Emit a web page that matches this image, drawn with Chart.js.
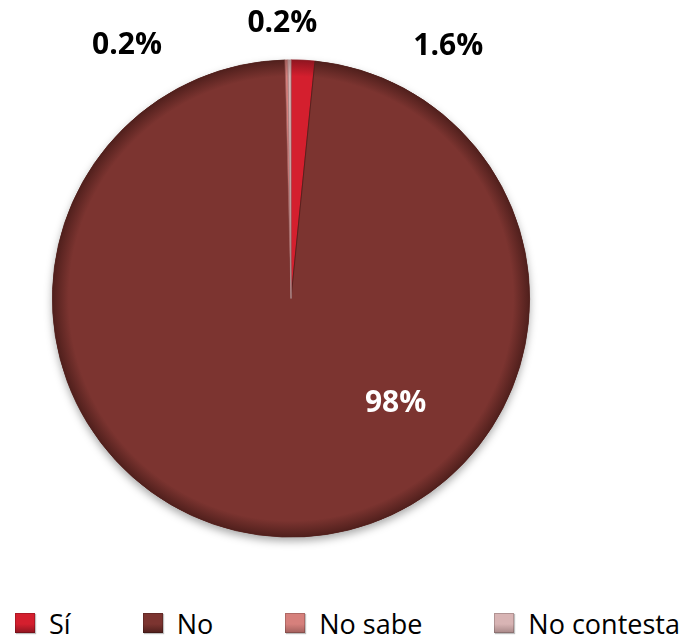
<!DOCTYPE html>
<html>
<head>
<meta charset="utf-8">
<script src="https://cdn.jsdelivr.net/npm/chart.js@4/dist/chart.umd.min.js"></script>
<style>
  html, body { margin: 0; padding: 0; background: #fff; }
  #wrap { position: relative; width: 685px; height: 641px; overflow: hidden; }
  #pie { position: absolute; left: 0; top: 0; }
  #legend {
    position: absolute; left: 15px; top: 607px; height: 32px;
    display: flex; align-items: center; gap: 72px;
    font-family: "Open Sans", sans-serif; font-size: 27px; color: #000;
  }
  .item { display: flex; align-items: center; gap: 14px; white-space: nowrap; }
  .box { width: 20px; height: 20px; box-shadow: inset 0 0 0 1px rgba(0,0,0,0.18), 1px 1px 1px rgba(0,0,0,0.25); }
</style>
</head>
<body>
<div id="wrap">
  <canvas id="pie" width="685" height="600"></canvas>
  <div id="legend"></div>
</div>
<script>
// ── Datos ────────────────────────────────────────────────
const CATEGORIES = ["Sí", "No", "No sabe", "No contesta"];
const VALUES     = [1.6, 98, 0.2, 0.2];
const LABELS     = ["1.6%", "98%", "0.2%", "0.2%"];

const COLORS  = ["#d41f2e", "#7c3430", "#d6807c", "#d8b4b4"];
const BORDERS = ["#8e1520", "#4f1f1c", "#a2605d", "#a88888"];

// estilo de etiquetas: desplazamiento respecto al ancla radial (px)
const LABEL_NUDGE = [[144, 12], [0, 0], [-159, 12], [-7, -10]];

// ── Etiquetas de datos (plugin propio) ─────────────────────
const pieLabels = {
  id: "pieLabels",
  afterDatasetsDraw(chart) {
    const ctx = chart.ctx;
    const meta = chart.getDatasetMeta(0);
    ctx.save();
    ctx.textAlign = "center";
    ctx.textBaseline = "middle";
    meta.data.forEach((arc, i) => {
      const { x, y, startAngle, endAngle, outerRadius } = arc.getProps(["x", "y", "startAngle", "endAngle", "outerRadius"], true);
      const mid = (startAngle + endAngle) / 2;
      let px, py;
      if (VALUES[i] > 50) {
        // etiqueta interior
        px = x + Math.cos(Math.PI / 4) * outerRadius * 0.62;
        py = y + Math.sin(Math.PI / 4) * outerRadius * 0.62;
        ctx.fillStyle = "#ffffff";
        ctx.font = "bold 30px 'Open Sans', sans-serif";
      } else {
        px = x + Math.cos(mid) * (outerRadius + 26) + LABEL_NUDGE[i][0];
        py = y + Math.sin(mid) * (outerRadius + 26) + LABEL_NUDGE[i][1];
        ctx.fillStyle = "#000000";
        ctx.font = "bold 30px 'Open Sans', sans-serif";
      }
      ctx.fillText(LABELS[i], px, py);
    });
    ctx.restore();
  },
};

// sombra suave bajo el pastel
const pieShadow = {
  id: "pieShadow",
  beforeDatasetsDraw(chart) {
    const meta = chart.getDatasetMeta(0);
    const a = meta.data[0];
    const ctx = chart.ctx;
    ctx.save();
    ctx.shadowColor = "rgba(0,0,0,0.35)";
    ctx.shadowBlur = 9;
    ctx.shadowOffsetY = 4;
    ctx.fillStyle = "#7c3430";
    ctx.beginPath();
    ctx.arc(a.x, a.y, a.outerRadius, 0, Math.PI * 2);
    ctx.fill();
    ctx.restore();
  },
};

function shade(ctx, i) {
  const chart = ctx.chart;
  const area = chart.chartArea;
  if (!area) return COLORS[i];
  const cx = (area.left + area.right) / 2;
  const cy = (area.top + area.bottom) / 2;
  const r = Math.min(area.right - area.left, area.bottom - area.top) / 2;
  const g = chart.ctx.createRadialGradient(cx, cy, 0, cx, cy, r);
  g.addColorStop(0, COLORS[i]);
  g.addColorStop(0.93, COLORS[i]);
  g.addColorStop(1, BORDERS[i]);
  return g;
}

new Chart(document.getElementById("pie"), {
  type: "pie",
  data: {
    labels: CATEGORIES,
    datasets: [{
      data: VALUES,
      backgroundColor: (c) => shade(c, c.dataIndex),
      borderColor: BORDERS,
      borderWidth: 0.8,
    }],
  },
  options: {
    responsive: false,
    animation: false,
    layout: { padding: { left: 52, right: 155, top: 59, bottom: 62 } },
    plugins: {
      legend: { display: false },
      tooltip: { enabled: false },
    },
  },
  plugins: [pieShadow, pieLabels],
});

// ── Leyenda ─────────────────────────────────────────────
const legend = document.getElementById("legend");
CATEGORIES.forEach((name, i) => {
  const item = document.createElement("div");
  item.className = "item";
  item.innerHTML = `<span class="box" style="background:linear-gradient(180deg, ${COLORS[i]} 0%, ${COLORS[i]} 55%, ${BORDERS[i]} 100%)"></span><span>${name}</span>`;
  legend.appendChild(item);
});
</script>
</body>
</html>
